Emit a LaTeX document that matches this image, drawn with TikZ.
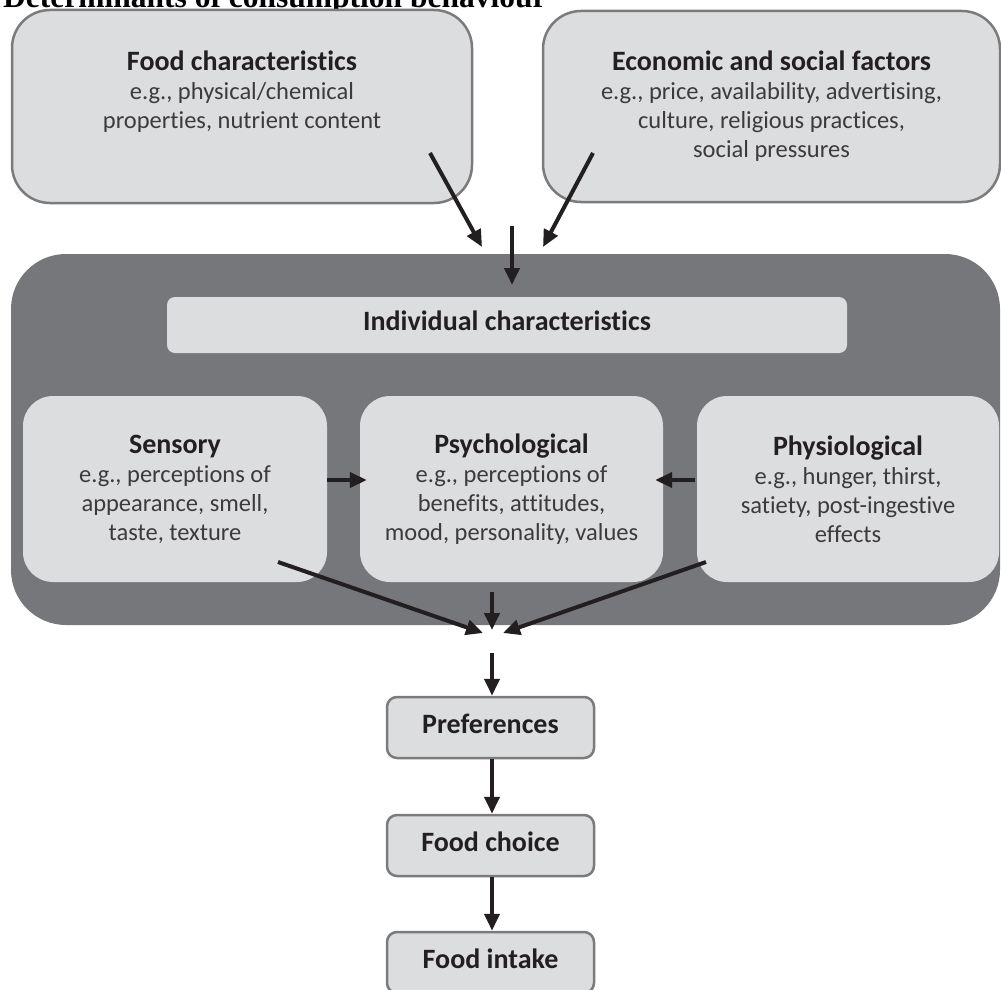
\documentclass[tikz,border=0pt]{standalone}
\usepackage{fontspec}
\setmainfont{Carlito}[Ligatures=NoCommon]
\newfontfamily\titlefont{Liberation Serif}
\usetikzlibrary{arrows.meta}
\definecolor{boxgray}{HTML}{DCDDDF}
\definecolor{panelgray}{HTML}{76777B}
\definecolor{edgegray}{HTML}{7B7B7D}
\definecolor{inkblack}{HTML}{231F20}
\newcommand{\boxhead}[1]{{\fontsize{28}{30}\selectfont\bfseries\color{inkblack}#1}}

\begin{document}
\begin{tikzpicture}[x=1pt, y=-1pt, >={Triangle[length=17pt,width=15pt]},
  body/.style={font=\fontsize{24.5}{29}\selectfont, align=center, text=inkblack!88, inner sep=0pt},
  topbox/.style={body, draw=edgegray, line width=2.5pt, fill=boxgray, rounded corners=38pt},
  innerbox/.style={body, fill=boxgray, rounded corners=30pt, minimum width=303pt, minimum height=186pt},
  stagebox/.style={body, text=inkblack, font=\fontsize{28}{30}\selectfont\bfseries, text depth=8pt, draw=edgegray,
    line width=2.5pt, fill=boxgray, rounded corners=10pt, minimum width=207pt, minimum height=61pt},
  flow/.style={->, line width=4pt, draw=inkblack}]
  \useasboundingbox (0,0) rectangle (1001,990);
  % title, cut at the top edge
  \node[anchor=base west, inner sep=0pt, font=\titlefont\bfseries\fontsize{31.5}{34}\selectfont] (title) at (3,7.5)
    {Determinants of consumption behaviour};
  % outer factors
  \node[topbox, minimum width=460pt, minimum height=193pt] (food) at (242,106.5) {};
  \node[body] (foodtext) at (242,92) {\boxhead{Food characteristics}\\ e.g., physical/chemical\\ properties, nutrient content};
  \node[topbox, minimum width=457pt, minimum height=191pt] (econ) at (771.5,106.5)
    {\boxhead{Economic and social factors}\\ e.g., price, availability, advertising,\\ culture, religious practices,\\ social pressures};
  % individual panel
  \node[fill=panelgray, rounded corners=55pt, minimum width=989pt, minimum height=371pt, inner sep=0pt] (panel) at (505.5,439.5) {};
  \node[body, fill=boxgray, rounded corners=8pt, minimum width=680pt, minimum height=56pt, text depth=8pt] (indiv) at (507,325)
    {\boxhead{Individual characteristics}};
  \node[innerbox, minimum width=304pt] (sensory) at (175,489)
    {\boxhead{Sensory}\\ e.g., perceptions of\\ appearance, smell,\\ taste, texture};
  \node[innerbox] (psych) at (511.5,489)
    {\boxhead{Psychological}\\ e.g., perceptions of\\ benefits, attitudes,\\ mood, personality, values};
  \node[innerbox, minimum width=302pt] (physio) at (848,489)
    {\boxhead{Physiological}\\ e.g., hunger, thirst,\\ satiety, post-ingestive\\ effects};
  % outcome chain
  \node[stagebox] (pref) at (490.5,727.5) {Preferences};
  \node[stagebox] (choice) at (490.5,845.5) {Food choice};
  \node[stagebox] (intake) at (490.5,962.5) {Food intake};
  % free arrow ends
  \coordinate (foodout) at (430,153);
  \coordinate (econout) at (593,153);
  \coordinate (topjoin) at (512,226);
  \coordinate (leftin) at (482,247);
  \coordinate (rightin) at (543,247);
  \coordinate (panelin) at (512,285);
  \coordinate (sensout) at (278,562);
  \coordinate (physout) at (706,562);
  \coordinate (psychout) at (492,592);
  \coordinate (mergeL) at (483,633);
  \coordinate (mergeR) at (503,633);
  \coordinate (mergeC) at (492,630);
  \coordinate (prefin) at (492,653);
  \foreach \s/\t in {foodout/leftin, econout/rightin, topjoin/panelin, sensout/mergeL, physout/mergeR, psychout/mergeC}
    \draw[flow] (\s) -- (\t);
  \draw[flow] ([yshift=9pt]sensory.east) -- ([yshift=9pt,xshift=7pt]psych.west);
  \draw[flow] ([yshift=9pt,xshift=-2pt]physio.west) -- ([yshift=9pt,xshift=-8pt]psych.east);
  \draw[flow] (prefin) -- (prefin |- pref.north);
  \foreach \a/\b in {pref/choice, choice/intake}
    \draw[flow] ([xshift=1.5pt]\a.south) -- ([xshift=1.5pt]\b.north);
\end{tikzpicture}
\end{document}
